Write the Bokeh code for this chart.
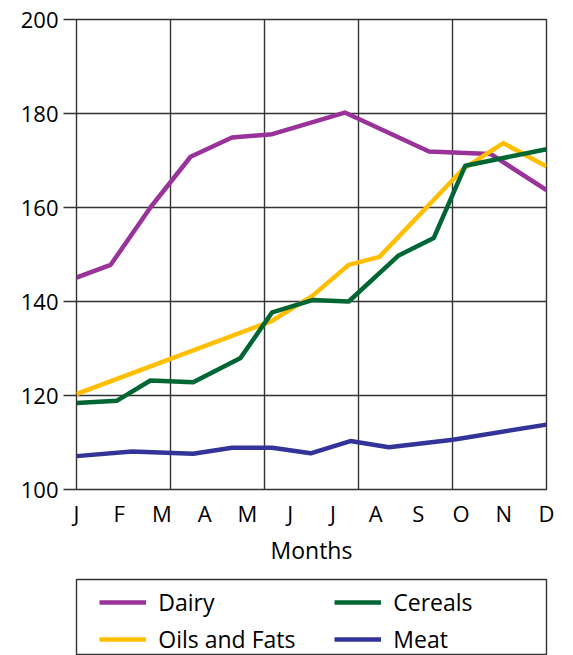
from bokeh.plotting import figure
from bokeh.layouts import column
from bokeh.models import FixedTicker, Legend, LegendItem, Range1d
from bokeh.embed import file_html
from bokeh.resources import INLINE

# ---- data ----
month_labels = ["J", "F", "M", "A", "M", "J", "J", "A", "S", "O", "N", "D"]
y_ticks = [100, 120, 140, 160, 180, 200]

# x positions are in month units (0 = Jan ... 11 = Dec)
dairy_x = [0, 0.80, 1.73, 2.67, 3.64, 4.58, 6.28, 8.25, 9.69, 11]
dairy_y = [145.1, 147.8, 160.0, 170.8, 174.9, 175.6, 180.2, 171.9, 171.4, 163.7]

cereals_x = [0, 0.95, 1.73, 2.73, 3.84, 4.58, 5.52, 6.37, 7.54, 8.36, 9.10, 11]
cereals_y = [118.4, 118.9, 123.2, 122.8, 128.0, 137.7, 140.3, 140.0, 149.8, 153.5, 168.9, 172.4]

oils_x = [0, 4.58, 5.52, 6.37, 7.09, 9.05, 9.99, 11]
oils_y = [120.3, 135.9, 141.2, 147.8, 149.5, 168.2, 173.7, 168.7]

meat_x = [0, 1.30, 2.73, 3.64, 4.58, 5.48, 6.41, 7.31, 8.81, 11]
meat_y = [107.1, 108.1, 107.6, 108.9, 108.9, 107.7, 110.3, 109.0, 110.6, 113.8]

series_names = ["Dairy", "Oils and Fats", "Cereals", "Meat"]
series_colors = ["#993399", "#FFBF00", "#006633", "#333399"]
series_x = [dairy_x, oils_x, cereals_x, meat_x]
series_y = [dairy_y, oils_y, cereals_y, meat_y]

FONT = "Open Sans"
GRID = "#333333"
LW = 4.5

p = figure(width=573, height=578, output_backend="svg", toolbar_location=None,
           x_range=Range1d(0, 11), y_range=Range1d(100, 200),
           min_border_left=76, min_border_right=27, min_border_top=19,
           min_border_bottom=89)
p.background_fill_color = "white"
p.border_fill_color = "white"
p.outline_line_color = GRID
p.outline_line_width = 1.4

# axes
p.xaxis.ticker = FixedTicker(ticks=list(range(12)))
p.xaxis.major_label_overrides = {i: m for i, m in enumerate(month_labels)}
p.xaxis.major_tick_out = 0
p.xaxis.major_tick_in = 0
p.xaxis.minor_tick_line_color = None
p.xaxis.axis_line_color = None
p.xaxis.major_label_standoff = 8
p.xaxis.axis_label = "Months"
p.xaxis.axis_label_standoff = 3

p.yaxis.ticker = FixedTicker(ticks=y_ticks)
p.yaxis.major_tick_out = 13
p.yaxis.major_tick_in = 0
p.yaxis.major_tick_line_color = GRID
p.yaxis.major_tick_line_width = 1.4
p.yaxis.minor_tick_line_color = None
p.yaxis.axis_line_color = None
p.yaxis.major_label_standoff = 5

for ax in (p.xaxis, p.yaxis):
    ax.major_label_text_font = FONT
    ax.major_label_text_font_size = "22px"
    ax.major_label_text_color = "black"
    ax.axis_label_text_font = FONT
    ax.axis_label_text_font_size = "23px"
    ax.axis_label_text_font_style = "normal"
    ax.axis_label_text_color = "black"

# grid
p.xgrid.ticker = FixedTicker(ticks=[2.2, 4.4, 6.6, 8.8])
p.ygrid.ticker = FixedTicker(ticks=[120, 140, 160, 180])
for g in (p.xgrid, p.ygrid):
    g.grid_line_color = GRID
    g.grid_line_width = 1.4

# series
for xs, ys, c in zip(series_x, series_y, series_colors):
    p.line(xs, ys, line_color=c, line_width=LW, line_join="round")

# ---- legend panel (its frame outline is the legend box) ----
q = figure(width=573, height=77, output_backend="svg", toolbar_location=None,
           x_range=Range1d(0, 1), y_range=Range1d(0, 1),
           x_axis_location=None, y_axis_location=None,
           min_border_left=76, min_border_right=27, min_border_top=1,
           min_border_bottom=0)
q.grid.visible = False
q.background_fill_color = "white"
q.border_fill_color = "white"
q.outline_line_color = GRID
q.outline_line_width = 1.4

# legend keys: same series, lying outside this panel's range so only the key shows
keys = [q.line(xs, ys, line_color=c, line_width=LW)
        for xs, ys, c in zip(series_x, series_y, series_colors)]

def make_legend(items, loc):
    lg = Legend(items=items, location=loc, orientation="vertical")
    lg.padding = 0
    lg.margin = 0
    lg.spacing = 5
    lg.glyph_width = 47
    lg.glyph_height = 32
    lg.label_height = 32
    lg.label_standoff = 12
    lg.label_text_font = FONT
    lg.label_text_font_size = "23px"
    lg.label_text_color = "black"
    lg.border_line_color = None
    lg.background_fill_alpha = 0
    return lg

leg1 = make_legend([LegendItem(label=series_names[0], renderers=[keys[0]]),
                    LegendItem(label=series_names[1], renderers=[keys[1]])], (23.3, 0))
leg2 = make_legend([LegendItem(label=series_names[2], renderers=[keys[2]]),
                    LegendItem(label=series_names[3], renderers=[keys[3]])], (258.3, 0))
q.add_layout(leg1, "center")
q.add_layout(leg2, "center")

layout = column(p, q, spacing=0)
open("out.html", "w").write(file_html(layout, INLINE))
